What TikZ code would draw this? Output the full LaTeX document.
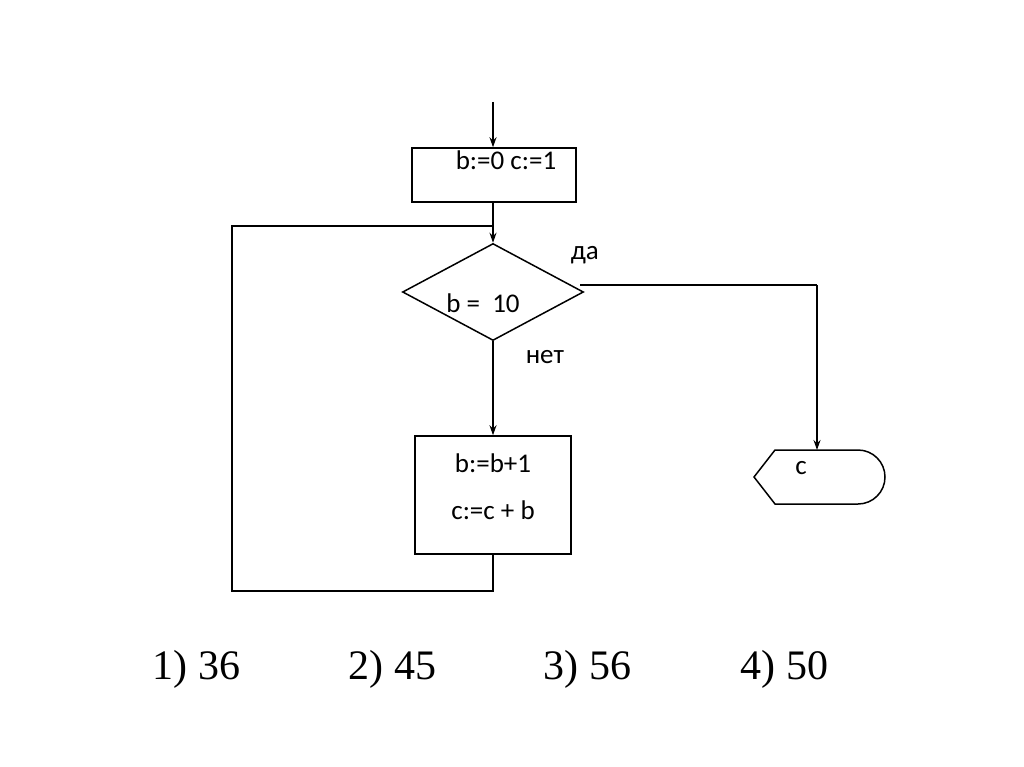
\documentclass[tikz,border=0pt]{standalone}
\usepackage{fontspec}
\setmainfont{Carlito}
\newfontfamily\timesf{Liberation Serif}
\usetikzlibrary{shapes.geometric,arrows.meta}
\begin{document}
\begin{tikzpicture}[x=1pt,y=-1pt,
  line width=1.5pt,
  arr/.style={-{Stealth[length=10pt,width=7pt]}},
  blk/.style={draw,rectangle,inner sep=0pt},
  txt/.style={inner sep=0pt,font=\fontsize{27}{32}\selectfont},
  ans/.style={inner sep=0pt,font=\timesf\fontsize{42}{48}\selectfont}]
\useasboundingbox (0,0) rectangle (1024,767);
\fill[white] (0,0) rectangle (1024,767);
% blocks
\node[blk,minimum width=164pt,minimum height=54pt] (b1) at (494,175) {};
\node[txt] (t1) at (506,160) {b:=0 c:=1};
\node[draw,diamond,inner sep=0pt,minimum width=181pt,minimum height=97pt] (dia) at (493,292) {};
\node[txt] (t2) at (483,303) {b =\ \ 10};
\node[blk,minimum width=156pt,minimum height=118pt] (b2) at (493,495) {};
\node[txt] (t3) at (493,463) {b:=b+1};
\node[txt] (t4) at (493,510) {c:=c + b};
\node[txt,anchor=west] (da) at (570,255) {да};
\node[txt,anchor=west] (net) at (525,357) {нет};
% terminator
\coordinate (term) at (817,450);
\draw (775,450) -- (858,450) arc[start angle=90,end angle=-90,radius=27pt] -- (775,504) -- (754,477) -- cycle;
\node[txt] (tc) at (801,468) {c};
% connectors
\coordinate (start) at (493,102);
\draw[arr] (start) -- (start |- b1.north);
\draw[arr] (start |- b1.south) -- (dia.north);
\draw[arr] (dia.south) -- (b2.north);
\coordinate (lb) at (232,591);
\coordinate (j) at (493,226);
\draw (b2.south) |- (lb) |- (j);
\coordinate (yc) at (817,285);
\draw (580,285) -- (yc);
\draw[arr] (yc) -- (term);
% answers
\node[ans,anchor=west] (a1) at (152,669) {1) 36};
\node[ans,anchor=west] (a2) at (348,669) {2) 45};
\node[ans,anchor=west] (a3) at (543,669) {3) 56};
\node[ans,anchor=west] (a4) at (740,669) {4) 50};
\end{tikzpicture}
\end{document}
